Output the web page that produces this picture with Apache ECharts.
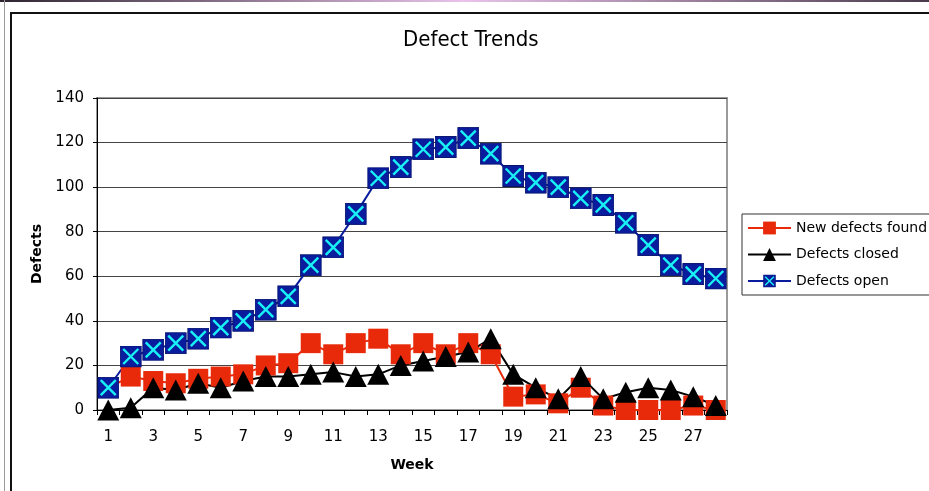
<!DOCTYPE html>
<html>
<head>
<meta charset="utf-8">
<title>Defect Trends</title>
<script src="https://cdn.jsdelivr.net/npm/echarts@6/dist/echarts.min.js"></script>
<style>
  html, body { margin: 0; padding: 0; background: #fff; }
  #chart { width: 929px; height: 491px; }
</style>
</head>
<body>
<div id="chart"></div>
<script>
// Weekly defect counts
const weeks = ['1','2','3','4','5','6','7','8','9','10','11','12','13','14',
               '15','16','17','18','19','20','21','22','23','24','25','26','27','28'];
const newDefects = [10, 15, 13, 12, 14, 15, 16, 20, 21, 30, 25, 30, 32, 25,
                    30, 25, 30, 25, 6, 7, 3, 10, 2, 0, 0, 0, 2, 0];
const closedDefects = [0, 1, 10, 9, 12, 10, 13, 15, 15, 16, 17, 15, 16, 20,
                       22, 24, 26, 32, 16, 10, 5, 15, 5, 8, 10, 9, 6, 2];
const openDefects = [10, 24, 27, 30, 32, 37, 40, 45, 51, 65, 73, 88, 104, 109,
                     117, 118, 122, 115, 105, 102, 100, 95, 92, 84, 74, 65, 61, 59];
const yTicks = { min: 0, max: 140, step: 20 };

// Navy square with a cyan cross for the "open" marker
const openSymbolSvg =
  "<svg xmlns='http://www.w3.org/2000/svg' width='22' height='22'>" +
  "<rect x='0.5' y='0.5' width='21' height='21' fill='#0a1c9e' stroke='#061470'/>" +
  "<path d='M3.5 3.5L18.5 18.5M18.5 3.5L3.5 18.5' stroke='#19f0f5' stroke-width='2.4'/>" +
  "</svg>";
const openSymbol = 'image://data:image/svg+xml;charset=utf-8,' + encodeURIComponent(openSymbolSvg);

const baseFont = 'DejaVu Sans, Verdana, sans-serif';

const chart = echarts.init(document.getElementById('chart'), null, { renderer: 'canvas' });

chart.setOption({
  animation: false,
  backgroundColor: '#ffffff',
  textStyle: { fontFamily: baseFont, color: '#000' },
  graphic: [
    // thin strip along the top edge
    { type: 'rect', shape: { x: 0, y: 0, width: 929, height: 2 }, silent: true, z: -10,
      style: { fill: new echarts.graphic.LinearGradient(0, 0, 1, 0, [
        { offset: 0, color: '#2e2430' }, { offset: 0.5, color: '#e9c3ea' }, { offset: 1, color: '#4a3a4c' }
      ]) } },
    // outer frame lines
    { type: 'line', shape: { x1: 4.5, y1: 0, x2: 4.5, y2: 491 }, silent: true, z: -10,
      style: { stroke: '#9a9a9a', lineWidth: 1 } },
    { type: 'rect', shape: { x: 11, y: 13, width: 940, height: 500 }, silent: true, z: -10,
      style: { fill: 'none', stroke: '#111', lineWidth: 2 } },
    // chart title
    { type: 'text', left: 403, top: 29, silent: true,
      style: { text: 'Defect Trends', font: '22px "DejaVu Sans Condensed", "Liberation Sans Narrow", sans-serif',
               fill: '#000' } }
  ],
  grid: {
    left: 97, top: 98, right: 202, bottom: 81,
    show: true, backgroundColor: '#fff', borderColor: '#9a9a9a', borderWidth: 2
  },
  legend: {
    orient: 'vertical',
    left: 742, top: 214,
    padding: [6, 30, 6, 5],
    itemWidth: 43, itemHeight: 16, itemGap: 10.5,
    borderColor: '#333', borderWidth: 1,
    backgroundColor: '#fff',
    textStyle: { fontFamily: baseFont, fontSize: 14, color: '#000', lineHeight: 16 },
    data: ['New defects found', 'Defects closed', 'Defects open']
  },
  xAxis: {
    type: 'category',
    data: weeks,
    boundaryGap: true,
    name: 'Week',
    nameLocation: 'middle',
    nameGap: 48,
    nameTextStyle: { fontFamily: baseFont, fontSize: 14, fontWeight: 'bold', color: '#000', verticalAlign: 'top' },
    axisLine: { lineStyle: { color: '#000', width: 1 } },
    axisTick: { show: true, interval: 0, length: 5, lineStyle: { color: '#000' } },
    axisLabel: { interval: 1, margin: 20, fontFamily: baseFont, fontSize: 15, color: '#000' },
    splitLine: { show: false }
  },
  yAxis: {
    type: 'value',
    min: yTicks.min, max: yTicks.max, interval: yTicks.step,
    name: 'Defects',
    nameLocation: 'middle',
    nameGap: 51,
    nameRotate: 90,
    nameTextStyle: { fontFamily: baseFont, fontSize: 14, fontWeight: 'bold', color: '#000' },
    axisLine: { show: true, lineStyle: { color: '#000', width: 1 } },
    axisTick: { show: true, length: 4, lineStyle: { color: '#000' } },
    axisLabel: { margin: 13, fontFamily: baseFont, fontSize: 15, color: '#000' },
    splitLine: { show: true, lineStyle: { color: '#444', width: 1 } }
  },
  series: [
    {
      name: 'New defects found',
      type: 'line',
      data: newDefects,
      symbol: 'rect',
      symbolSize: 20,
      showAllSymbol: true,
      itemStyle: { color: '#e82a0a' },
      lineStyle: { color: '#e82a0a', width: 2 },
      emphasis: { disabled: true }
    },
    {
      name: 'Defects closed',
      type: 'line',
      data: closedDefects,
      symbol: 'triangle',
      symbolSize: [22, 21],
      showAllSymbol: true,
      itemStyle: { color: '#000' },
      lineStyle: { color: '#000', width: 2 },
      emphasis: { disabled: true }
    },
    {
      name: 'Defects open',
      type: 'line',
      data: openDefects,
      symbol: openSymbol,
      symbolSize: 22,
      showAllSymbol: true,
      itemStyle: { color: '#0a1c9e' },
      lineStyle: { color: '#0a1c9e', width: 2 },
      emphasis: { disabled: true }
    }
  ]
});
</script>
</body>
</html>
